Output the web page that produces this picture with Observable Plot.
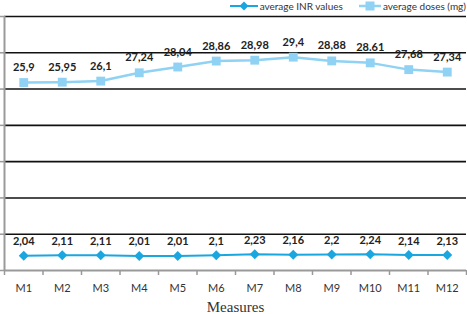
<!DOCTYPE html>
<html><head><meta charset="utf-8">
<script src="https://cdn.jsdelivr.net/npm/d3@7"></script>
<script src="https://cdn.jsdelivr.net/npm/@observablehq/plot@0.6"></script>
<style>
body{margin:0;background:#fff;}
#wrap{position:relative;width:467px;height:314px;overflow:hidden;}
#legend{position:absolute;top:0;right:1px;height:12px;display:flex;align-items:center;font:10px Lato,sans-serif;color:#333;white-space:nowrap;}
#legend .item{display:flex;align-items:center;}
#legend svg{display:block;}
</style></head><body><div id="wrap"><div id="legend"></div></div>
<script>
const months = ["M1","M2","M3","M4","M5","M6","M7","M8","M9","M10","M11","M12"];
const inr = [2.04,2.11,2.11,2.01,2.01,2.1,2.23,2.16,2.2,2.24,2.14,2.13];
const doses = [25.9,25.95,26.1,27.24,28.04,28.86,28.98,29.4,28.88,28.61,27.68,27.34];
const inrLabels = ["2,04","2,11","2,11","2,01","2,01","2,1","2,23","2,16","2,2","2,24","2,14","2,13"];
const doseLabels = ["25,9","25,95","26,1","27,24","28,04","28,86","28,98","29,4","28,88","28.61","27,68","27,34"];
const seriesNames = ["average INR values","average doses (mg)"];
const yTicks = [0,5,10,15,20,25,30,35];
const xTitle = "Measures";

const inrColor = "#1aa7e0", doseColor = "#8fd2f3";
const rows = months.map((m,i)=>({i:i+1, m, inr:inr[i], dose:doses[i], inrL:inrLabels[i], doseL:doseLabels[i]}));
const bounds = d3.range(0.5, 13, 1);

const chart = Plot.plot({
  width:467, height:314,
  marginLeft:4, marginRight:1, marginTop:16, marginBottom:44,
  x:{domain:[0.5,12.5]},
  y:{domain:[0,35]},
  style:{fontFamily:"Lato, sans-serif", background:"#fff", overflow:"visible"},
  marks:[
    Plot.ruleY(yTicks.filter(d=>d>0), {stroke:"#111", strokeWidth:1.6}),
    Plot.axisY({ticks:yTicks, tickFormat:()=>"", tickSize:4, stroke:"#999", strokeWidth:1.5}),
    Plot.ruleX([0.5], {stroke:"#9a9a9a", strokeWidth:2}),
    Plot.ruleY([0], {stroke:"#9a9a9a", strokeWidth:2}),
    Plot.axisX({ticks:bounds, tickFormat:()=>"", tickSize:5, stroke:"#999", strokeWidth:1.5, label:null}),
    Plot.axisX({ticks:d3.range(1,13), tickSize:0, tickPadding:14, tickFormat:i=>months[i-1], fontSize:11, fill:"#333", label:null}),
    Plot.text([xTitle], {frameAnchor:"bottom", dy:37, lineAnchor:"middle", fontFamily:"Liberation Serif, serif", fontSize:15, fill:"#333"}),
    Plot.line(rows, {x:"i", y:"dose", stroke:doseColor, strokeWidth:2.5}),
    Plot.dot(rows, {x:"i", y:"dose", symbol:"square", fill:doseColor, r:5}),
    Plot.line(rows, {x:"i", y:"inr", stroke:inrColor, strokeWidth:2}),
    Plot.dot(rows, {x:"i", y:"inr", symbol:"diamond2", fill:inrColor, r:4.5}),
    Plot.text(rows, {x:"i", y:"dose", text:"doseL", dy:-15, fontWeight:"bold", fontSize:11, fill:"#222", lineAnchor:"middle"}),
    Plot.text(rows, {x:"i", y:"inr", text:"inrL", dy:-14, fontWeight:"bold", fontSize:11, fill:"#222", lineAnchor:"middle"})
  ]
});
document.getElementById("wrap").appendChild(chart);

const legend = document.getElementById("legend");
const sym = [
  `<svg width="28" height="12"><line x1="0" y1="6" x2="28" y2="6" stroke="${inrColor}" stroke-width="2"/><path d="M14,1.5L18.5,6L14,10.5L9.5,6Z" fill="${inrColor}"/></svg>`,
  `<svg width="22" height="12"><line x1="0" y1="6" x2="22" y2="6" stroke="${doseColor}" stroke-width="2.5"/><rect x="6.5" y="1.5" width="9" height="9" fill="${doseColor}"/></svg>`
];
seriesNames.forEach((n,k)=>{
  const d = document.createElement("div");
  d.className = "item";
  d.style.marginRight = k===0 ? "16px" : "0";
  d.innerHTML = sym[k] + `<span style="margin-left:2px">${n}</span>`;
  legend.appendChild(d);
});
</script>
</body></html>
